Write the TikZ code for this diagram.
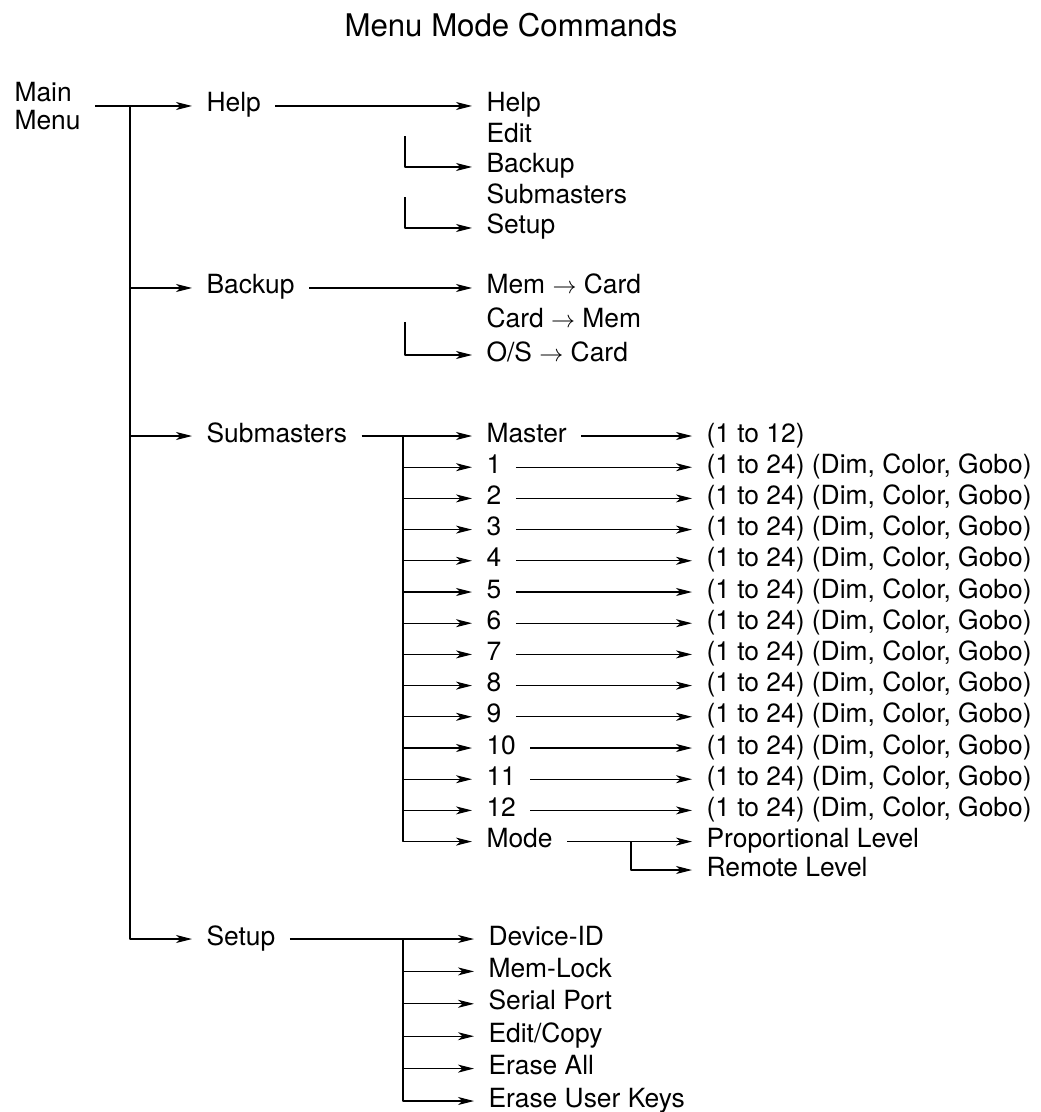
\documentclass[tikz,border=0pt]{standalone}
\usepackage{fontspec}
\setmainfont{TeX Gyre Heros}
\usetikzlibrary{arrows.meta}
\begin{document}
\begin{tikzpicture}[x=0.5pt, y=-0.5pt, font=\fontsize{13.2}{14}\selectfont, line width=0.55pt, line join=round, >={Stealth[length=8pt, width=4pt, inset=2.2pt]}, entry/.style={anchor=west, inner xsep=7pt, inner ysep=0pt, text height=9.4pt, text depth=3.4pt}]
\useasboundingbox (0,0) rectangle (1040,1112);
			\node[font=\fontsize{15.6}{18}\selectfont, anchor=base] (title) at (511,37) {Menu Mode Commands};
			\node[anchor=west, align=left, inner xsep=7pt, inner ysep=0pt] (main) at (0,106) {Main\\Menu};
			\node[entry] (help1) at (192,106) {Help};
			\node[entry] (backup1) at (192,288) {Backup};
			\node[entry] (sub1) at (192,436) {Submasters};
			\node[entry] (setup1) at (192,939) {Setup};
			\coordinate (trunk) at (130,106);
			\node[entry] (help2) at (472,106) {Help};
			\node[entry] (edit) at (472,136.5) {Edit};
			\node[entry] (backup2) at (472,167) {Backup};
			\node[entry] (subm2) at (472,197.5) {Submasters};
			\node[entry] (setup2) at (472,228) {Setup};
			\node[entry] (memcard) at (472,288) {Mem $\rightarrow$ Card};
			\node[entry] (cardmem) at (472,322) {Card $\rightarrow$ Mem};
			\node[entry] (oscard) at (472,355) {O/S $\rightarrow$ Card};
			\coordinate (hb) at (405,0);
			\node[entry] (master) at (472,436) {Master};
			\node[entry] (range) at (692,436) {(1 to 12)};
			\coordinate (strunk) at (403,436);
			\node[entry] (mode) at (472,841.6) {Mode};
			\node[entry] (prop) at (692,841.6) {Proportional Level};
			\node[entry] (remote) at (692,870) {Remote Level};
			\coordinate (mb) at (631,0);
			\coordinate (sst) at (403,939);
			\foreach \name [count=\i from 0] in {Device-ID, Mem-Lock, Serial Port, Edit/Copy, Erase All, Erase User Keys}
				\node[entry] (set\i) at (474, {939+32.4*\i}) {\name};
			\draw[->] (main.east) -- (help1.west);
			\draw[->] (trunk) |- (setup1.west);
			\draw[->] (trunk |- backup1.west) -- (backup1.west);
			\draw[->] (trunk |- sub1.west) -- (sub1.west);
			\draw[->] (help1.east) -- (help2.west);
			\draw[->] (edit.west -| hb) |- (backup2.west);
			\draw[->] (subm2.west -| hb) |- (setup2.west);
			\draw[->] (backup1.east) -- (memcard.west);
			\draw[->] (cardmem.west -| hb) |- (oscard.west);
			\draw[->] (sub1.east) -- (master.west);
			\draw[->] (master.east) -- (range.west);
			\draw[->] (strunk) |- (mode.west);
			\foreach \k in {1,...,12} {
				\node[entry] (n\k) at (472, {436+31.2*\k}) {\k};
				\node[entry] (r\k) at (692, {436+31.2*\k}) {(1 to 24) (Dim, Color, Gobo)};
				\draw[->] (strunk |- n\k.west) -- (n\k.west);
				\draw[->] (n\k.east) -- (r\k.west);
			}
			\draw[->] (mode.east) -- (prop.west);
			\draw[->] (prop.west -| mb) |- (remote.west);
			\draw[->] (setup1.east) -- (set0.west);
			\draw[->] (sst) |- (set5.west);
			\foreach \i in {1,...,4} \draw[->] (sst |- set\i.west) -- (set\i.west);
		\end{tikzpicture}
\end{document}
